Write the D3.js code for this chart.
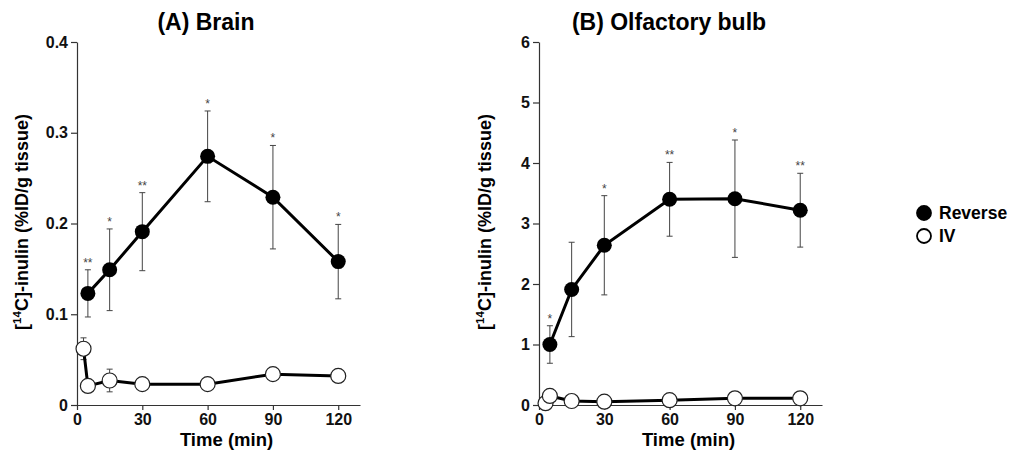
<!DOCTYPE html>
<html>
<head>
<meta charset="utf-8">
<script src="https://cdn.jsdelivr.net/npm/d3@7"></script>
<style>
  body { margin: 0; background: #fff; }
  svg { display: block; font-family: Arial, "Liberation Sans", sans-serif; }
  .domain, .tick line { stroke: #333; stroke-width: 1.2; }
</style>
</head>
<body>
<svg width="1013" height="454"></svg>
<script>
const WIDTH = 1013;
const HEIGHT = 454;

// shared time points
const timesReverse = [5, 15, 30, 60, 90, 120];
const timesIV = [3, 5, 15, 30, 60, 90, 120];
const xTicks = [0, 30, 60, 90, 120];

// (A) Brain
const brainReverse = [0.123, 0.149, 0.191, 0.274, 0.229, 0.158];
const brainReverseSE = [0.026, 0.045, 0.043, 0.05, 0.057, 0.041];
const brainIV = [0.062, 0.021, 0.027, 0.023, 0.023, 0.034, 0.032];
const brainIVSE = [0.012, 0, 0.0125, 0.003, 0, 0, 0];
const brainStars = ["**", "*", "**", "*", "*", "*"];
const brainTicks = [0, 0.1, 0.2, 0.3, 0.4];

// (B) Olfactory bulb
const bulbReverse = [1.0, 1.91, 2.64, 3.4, 3.41, 3.22];
const bulbReverseSE = [0.31, 0.78, 0.82, 0.61, 0.97, 0.61];
const bulbIV = [0.03, 0.15, 0.066, 0.055, 0.08, 0.11, 0.11];
const bulbIVSE = [0, 0, 0, 0, 0, 0, 0];
const bulbStars = ["*", "", "*", "**", "*", "**"];
const bulbTicks = [0, 1, 2, 3, 4, 5, 6];

const legendLabels = ["Reverse", "IV"];

const svg = d3.select("svg");

const panels = [
  {
    title: "(A) Brain", titleX: 206, left: 77, labelX: 28, yMax: 0.4,
    yTicks: brainTicks, yFormat: (d) => (d === 0 ? "0" : d3.format(".1f")(d)),
    rev: brainReverse, revSE: brainReverseSE, iv: brainIV, ivSE: brainIVSE, stars: brainStars,
  },
  {
    title: "(B) Olfactory bulb", titleX: 669, left: 539, labelX: 491, yMax: 6,
    yTicks: bulbTicks, yFormat: d3.format("d"),
    rev: bulbReverse, revSE: bulbReverseSE, iv: bulbIV, ivSE: bulbIVSE, stars: bulbStars,
  },
];

const PLOT_W = 283;
const Y0 = 405;
const Y1 = 42;

const styleTicks = (a) =>
  a.selectAll(".tick text")
    .style("font-size", "16px")
    .style("font-weight", "bold")
    .style("font-family", "Arial, 'Liberation Sans', sans-serif")
    .attr("fill", "#111");

panels.forEach((p) => {
  const x = d3.scaleLinear().domain([0, 130]).range([p.left, p.left + PLOT_W]);
  const y = d3.scaleLinear().domain([0, p.yMax]).range([Y0, Y1]);
  const g = svg.append("g");

  g.append("g")
    .attr("transform", `translate(0,${Y0})`)
    .call(d3.axisBottom(x).tickValues(xTicks).tickSize(5).tickSizeOuter(0).tickPadding(2))
    .call(styleTicks)
    .call((a) => a.selectAll(".tick text").attr("dy", "0.8em"));

  g.append("g")
    .attr("transform", `translate(${p.left},0)`)
    .call(d3.axisLeft(y).tickValues(p.yTicks).tickFormat(p.yFormat).tickSize(6).tickSizeOuter(0).tickPadding(3))
    .call(styleTicks);

  // titles
  g.append("text")
    .attr("x", p.titleX).attr("y", 30)
    .attr("text-anchor", "middle")
    .style("font-size", "23px").style("font-weight", "bold")
    .text(p.title);

  g.append("text")
    .attr("x", (x(0) + x(130)) / 2 + 8).attr("y", 446)
    .attr("text-anchor", "middle")
    .style("font-size", "18.5px").style("font-weight", "bold")
    .text("Time (min)");

  const yl = g.append("text")
    .attr("transform", `translate(${p.labelX},222) rotate(-90)`)
    .attr("text-anchor", "middle")
    .style("font-size", "18px").style("font-weight", "bold");
  yl.append("tspan").text("[");
  yl.append("tspan").attr("dy", -7).style("font-size", "11.5px").text("14");
  yl.append("tspan").attr("dy", 7).text("C]-inulin (%ID/g tissue)");

  const rev = timesReverse.map((t, i) => ({ t, v: p.rev[i], se: p.revSE[i], star: p.stars[i] }));
  const iv = timesIV.map((t, i) => ({ t, v: p.iv[i], se: p.ivSE[i] }));

  // error bars
  const drawErr = (data) => {
    const eg = g.append("g").attr("stroke", "#444").attr("stroke-width", 1);
    data.filter((d) => d.se > 0).forEach((d) => {
      const cx = x(d.t);
      const top = y(d.v + d.se);
      const bot = y(d.v - d.se);
      eg.append("line").attr("x1", cx).attr("x2", cx).attr("y1", top).attr("y2", bot);
      eg.append("line").attr("x1", cx - 3).attr("x2", cx + 3).attr("y1", top).attr("y2", top);
      eg.append("line").attr("x1", cx - 3).attr("x2", cx + 3).attr("y1", bot).attr("y2", bot);
    });
  };
  drawErr(rev);
  drawErr(iv);

  const line = d3.line().x((d) => x(d.t)).y((d) => y(d.v));
  [iv, rev].forEach((data) => {
    g.append("path").datum(data)
      .attr("d", line)
      .attr("fill", "none").attr("stroke", "#000").attr("stroke-width", 3);
  });

  g.selectAll(".iv-dot").data(iv).join("circle")
    .attr("class", "iv-dot")
    .attr("cx", (d) => x(d.t)).attr("cy", (d) => y(d.v)).attr("r", 7.5)
    .attr("fill", "#fff").attr("stroke", "#222").attr("stroke-width", 1.2);

  g.selectAll(".rev-dot").data(rev).join("circle")
    .attr("class", "rev-dot")
    .attr("cx", (d) => x(d.t)).attr("cy", (d) => y(d.v)).attr("r", 7.5)
    .attr("fill", "#000");

  g.selectAll(".star").data(rev.filter((d) => d.star)).join("text")
    .attr("class", "star")
    .attr("x", (d) => x(d.t)).attr("y", (d) => y(d.v + d.se) - 3)
    .attr("text-anchor", "middle")
    .style("font-size", "12px").attr("fill", "#444")
    .text((d) => d.star);
});

// legend
const legend = svg.append("g").attr("transform", "translate(924,213)");
legendLabels.forEach((label, i) => {
  const row = legend.append("g").attr("transform", `translate(0,${i * 23})`);
  row.append("circle").attr("r", 7)
    .attr("fill", i === 0 ? "#000" : "#fff")
    .attr("stroke", "#000").attr("stroke-width", 1.8);
  row.append("text").attr("x", 15).attr("y", 6)
    .style("font-size", "17.5px").style("font-weight", "bold")
    .text(label);
});
</script>
</body>
</html>
